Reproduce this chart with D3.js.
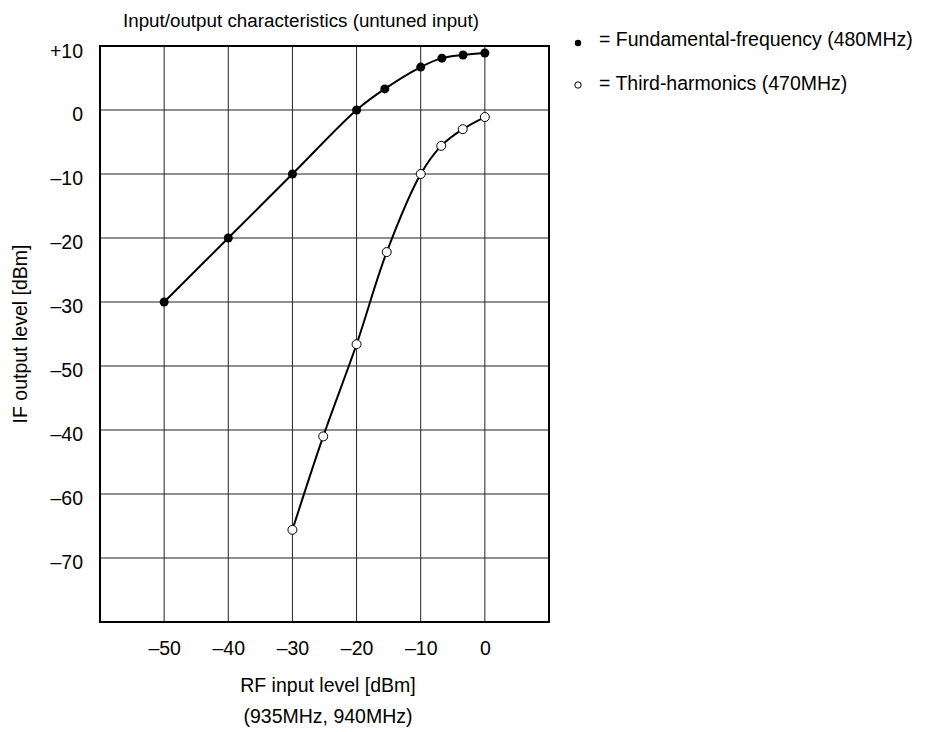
<!DOCTYPE html>
<meta charset="utf-8">
<style>
    body { margin: 0; background: #fff; }
    text { font-family: "Liberation Sans", Arial, sans-serif; fill: #000; }
    .grid line { stroke: #222; stroke-width: 1px; }
    .curve { fill: none; stroke: #000; stroke-width: 2px; }
</style>
<svg width="929" height="732"></svg>
<script src="https://d3js.org/d3.v7.min.js"></script>
<script>

    // x: RF input level, y: position on the chart grid (one grid row = 10)
    var fundX = [-50, -40, -30, -20, -15.6, -10, -6.7, -3.4, 0];
    var fundY = [-30, -20, -10, 0, 3.3, 6.7, 8.1, 8.6, 8.9];
    var thirdX = [-30, -25.2, -20, -15.3, -10, -6.8, -3.45, 0];
    var thirdY = [-65.6, -51.0, -36.6, -22.2, -10, -5.6, -3.0, -1.1];

    var xTicks = [-50, -40, -30, -20, -10, 0];
    var yTickPos = [10, 0, -10, -20, -30, -40, -50, -60, -70];
    var yTickLabels = ["+10", "0", "\u201310", "\u201320", "\u201330", "\u201350", "\u201340", "\u201360", "\u201370"];

    var svg = d3.select("svg");
    var plotL = 100, plotR = 549, plotT = 46, plotB = 622;
    var fs = "19.5px";

    var x = d3.scaleLinear().domain([-60, 10]).range([plotL, plotR]);
    var y = d3.scaleLinear().domain([10, -80]).range([plotT, plotB]);

    var grid = svg.append("g").attr("class", "grid");
    grid.selectAll(".v").data(d3.range(-50, 10, 10)).enter().append("line")
        .attr("x1", function (d) { return x(d); })
        .attr("x2", function (d) { return x(d); })
        .attr("y1", plotT).attr("y2", plotB);
    grid.selectAll(".h").data(d3.range(0, -80, -10)).enter().append("line")
        .attr("y1", function (d) { return y(d); })
        .attr("y2", function (d) { return y(d); })
        .attr("x1", plotL).attr("x2", plotR);

    svg.append("rect")
        .attr("x", plotL).attr("y", plotT)
        .attr("width", plotR - plotL).attr("height", plotB - plotT)
        .attr("fill", "none").attr("stroke", "#000").attr("stroke-width", 2);

    // axes (labels only)
    var xAxis = svg.append("g")
        .attr("transform", "translate(0," + (plotB + 16) + ")")
        .call(d3.axisBottom(x).tickValues(xTicks).tickSize(0)
            .tickFormat(function (d) { return d === 0 ? "0" : "\u2013" + Math.abs(d); }));
    xAxis.select(".domain").remove();
    xAxis.selectAll("text").style("font-size", fs).style("font-family", "Liberation Sans, Arial, sans-serif");

    var yAxis = svg.append("g")
        .attr("transform", "translate(" + (plotL - 14) + ",4)")
        .call(d3.axisLeft(y).tickValues(yTickPos).tickSize(0)
            .tickFormat(function (d, i) { return yTickLabels[i]; }));
    yAxis.select(".domain").remove();
    yAxis.selectAll("text").style("font-size", fs).style("font-family", "Liberation Sans, Arial, sans-serif");
    yAxis.selectAll(".tick").filter(function (d) { return d === 10; })
        .select("text").attr("dy", "0.4em");

    var line = d3.line()
        .x(function (d) { return x(d[0]); })
        .y(function (d) { return y(d[1]); })
        .curve(d3.curveCatmullRom.alpha(0.5));

    var fund = d3.zip(fundX, fundY);
    var third = d3.zip(thirdX, thirdY);

    svg.append("path").datum(fund).attr("class", "curve").attr("d", line);
    svg.append("path").datum(third).attr("class", "curve").attr("d", line);

    svg.selectAll(".fdot").data(fund).enter().append("circle")
        .attr("cx", function (d) { return x(d[0]); })
        .attr("cy", function (d) { return y(d[1]); })
        .attr("r", 4.5).attr("fill", "#000");

    svg.selectAll(".tdot").data(third).enter().append("circle")
        .attr("cx", function (d) { return x(d[0]); })
        .attr("cy", function (d) { return y(d[1]); })
        .attr("r", 4.5).attr("fill", "#fff").attr("stroke", "#000").attr("stroke-width", 1);

    // titles
    svg.append("text").attr("x", 301).attr("y", 27)
        .attr("text-anchor", "middle").style("font-size", "18.8px")
        .text("Input/output characteristics (untuned input)");
    svg.append("text").attr("x", 328).attr("y", 692)
        .attr("text-anchor", "middle").style("font-size", fs)
        .text("RF input level [dBm]");
    svg.append("text").attr("x", 328).attr("y", 723)
        .attr("text-anchor", "middle").style("font-size", fs)
        .text("(935MHz, 940MHz)");
    svg.append("text").attr("transform", "translate(27," + (plotT + plotB) / 2 + ") rotate(-90)")
        .attr("text-anchor", "middle").style("font-size", fs)
        .text("IF output level [dBm]");

    // legend
    var legend = svg.append("g");
    legend.append("circle").attr("cx", 578).attr("cy", 43).attr("r", 3.2).attr("fill", "#000");
    legend.append("text").attr("x", 599).attr("y", 46).style("font-size", fs)
        .text("= Fundamental-frequency (480MHz)");
    legend.append("circle").attr("cx", 578).attr("cy", 85).attr("r", 3.2).attr("fill", "#fff").attr("stroke", "#000");
    legend.append("text").attr("x", 599).attr("y", 90).style("font-size", fs)
        .text("= Third-harmonics (470MHz)");

</script>
